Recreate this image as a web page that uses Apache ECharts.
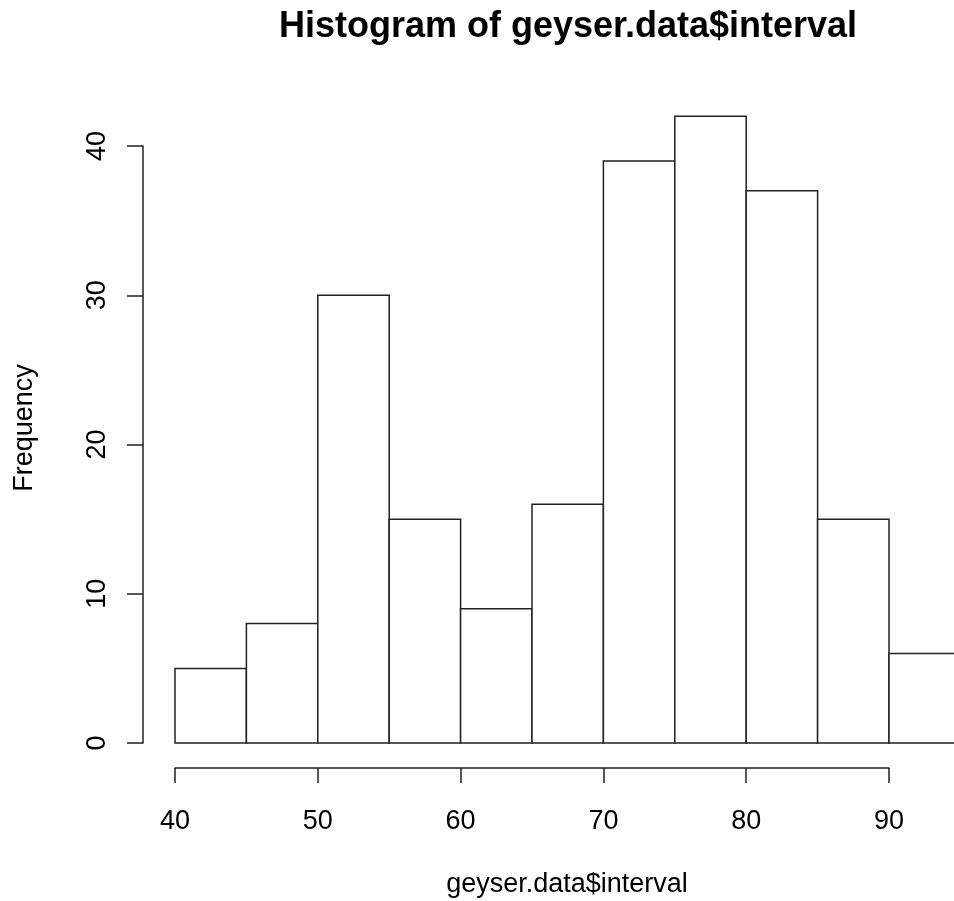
<!DOCTYPE html>
<html>
<head>
<meta charset="utf-8">
<script src="https://cdn.jsdelivr.net/npm/echarts@6/dist/echarts.min.js"></script>
<style>
  html, body { margin: 0; padding: 0; background: #fff; }
  #main { width: 954px; height: 901px; }
</style>
</head>
<body>
<div id="main"></div>
<script>
// histogram bins (left edge, right edge) and counts
var binStarts = [40, 45, 50, 55, 60, 65, 70, 75, 80, 85, 90]
var binEnds = [45, 50, 55, 60, 65, 70, 75, 80, 85, 90, 95]
var counts = [5, 8, 30, 15, 9, 16, 39, 42, 37, 15, 6]
var xTicks = [40, 50, 60, 70, 80, 90]
var yTicks = [0, 10, 20, 30, 40]

var font = '"Liberation Sans", Arial, sans-serif'
var lineColor = '#222'

var chart = echarts.init(document.getElementById('main'))

var bins = binStarts.map(function (s, i) {
  return [s, binEnds[i], counts[i]]
})

chart.setOption({
  backgroundColor: '#fff',
  animation: false,
  grid: { left: 175, top: 146, width: 714, height: 597 },
  xAxis: {
    type: 'value',
    min: xTicks[0],
    max: xTicks[xTicks.length - 1],
    interval: 10,
    offset: 25,
    splitLine: { show: false },
    axisLine: { onZero: false, lineStyle: { color: lineColor, width: 1.5 } },
    axisTick: { length: 15, lineStyle: { color: lineColor, width: 1.5 } },
    axisLabel: { color: '#000', fontSize: 27, fontFamily: font, margin: 40 }
  },
  yAxis: {
    type: 'value',
    min: yTicks[0],
    max: yTicks[yTicks.length - 1],
    interval: 10,
    offset: 32,
    splitLine: { show: false },
    axisLine: { onZero: false, lineStyle: { color: lineColor, width: 1.5 } },
    axisTick: { length: 16, lineStyle: { color: lineColor, width: 1.5 } },
    axisLabel: { color: '#000', fontSize: 27, fontFamily: font, margin: 32, rotate: 90 }
  },
  series: [{
    type: 'custom',
    clip: false,
    data: bins,
    encode: { x: [0, 1], y: 2 },
    renderItem: function (params, api) {
      var p0 = api.coord([api.value(0), 0])
      var p1 = api.coord([api.value(1), api.value(2)])
      return {
        type: 'rect',
        shape: { x: p0[0], y: p1[1], width: p1[0] - p0[0], height: p0[1] - p1[1] },
        style: { fill: '#fff', stroke: lineColor, lineWidth: 1.5 }
      }
    }
  }],
  graphic: [
    {
      type: 'text',
      x: 568, y: 27,
      style: {
        text: 'Histogram of geyser.data$interval',
        font: 'bold 36px ' + font,
        fill: '#000', align: 'center', verticalAlign: 'middle'
      }
    },
    {
      type: 'text',
      x: 567, y: 885,
      style: {
        text: 'geyser.data$interval',
        font: '27px ' + font,
        fill: '#000', align: 'center', verticalAlign: 'middle'
      }
    },
    {
      type: 'text',
      x: 25, y: 428,
      rotation: Math.PI / 2,
      style: {
        text: 'Frequency',
        font: '27px ' + font,
        fill: '#000', align: 'center', verticalAlign: 'middle'
      }
    }
  ]
})
</script>
</body>
</html>
